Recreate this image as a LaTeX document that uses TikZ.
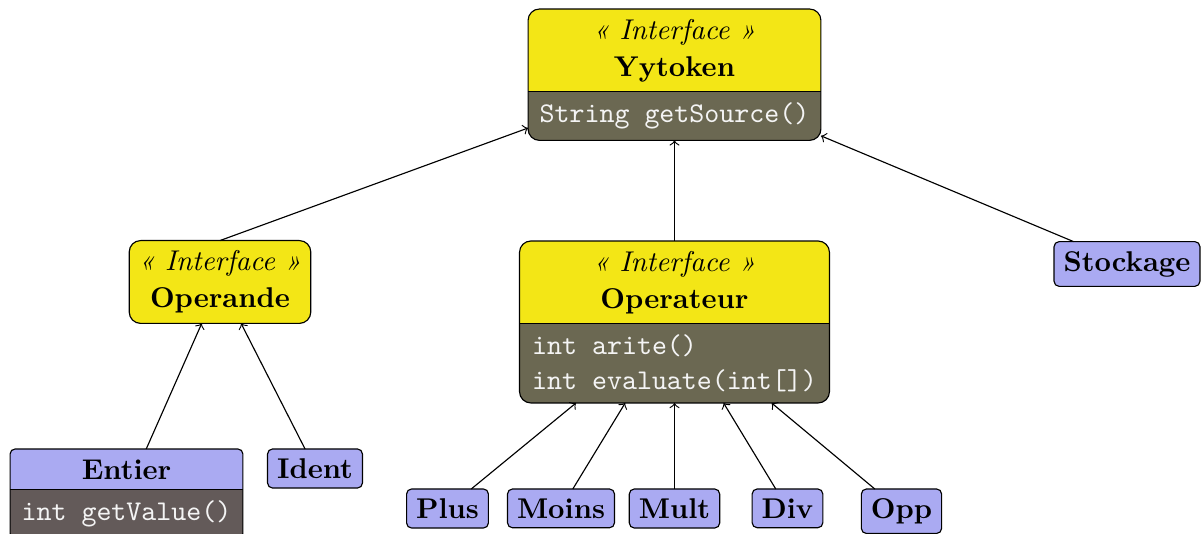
\documentclass[tikz,border=0pt]{standalone}
\usetikzlibrary{fit,backgrounds}

\definecolor{ifacefill}{RGB}{243,230,22}
\definecolor{opsfill}{RGB}{107,104,82}
\definecolor{entfill}{RGB}{99,90,89}
\definecolor{classfill}{RGB}{170,170,242}
\definecolor{methodtext}{RGB}{244,244,244}

\tikzset{
  part/.style={inner sep=3.33pt, outer sep=0pt, align=center},
  header/.style={part, minimum height=29pt},
  methods/.style={part, align=left, text=methodtext, font=\ttfamily},
  frame/.style={draw, inner sep=0pt, outer sep=0pt, rounded corners=#1},
  ifacebox/.style={part, draw, fill=ifacefill, rounded corners=4pt, minimum height=29pt},
  classbox/.style={part, draw, fill=classfill, rounded corners=1.75pt, anchor=north, font=\bfseries},
  inherit/.style={->, thin}
}

\begin{document}
\begin{tikzpicture}[x=0.35pt, y=-0.35pt]
\useasboundingbox (0,0) rectangle (1202,534);

% --- Yytoken interface
\node[header, minimum width=102.5pt, anchor=north] (yyt-h) at (674.5,9)
  {\textit{« Interface »}\\[1pt]\textbf{Yytoken}};
\node[methods, minimum width=102.5pt, minimum height=17pt, anchor=north] (yyt-m) at (yyt-h.south)
  {String getSource()};
\node[frame=4pt, fit=(yyt-h)(yyt-m)] (yyt) {};
\begin{scope}[on background layer]
  \begin{scope}
    \clip[rounded corners=4pt] (yyt.north west) rectangle (yyt.south east);
    \fill[ifacefill] (yyt-h.north west) rectangle (yyt-h.south east);
    \fill[opsfill] (yyt-m.north west) rectangle (yyt-m.south east);
  \end{scope}
\end{scope}
\draw (yyt-h.south west) -- (yyt-h.south east);

% --- Operande interface
\node[ifacebox] (opd) at (220,282)
  {\textit{« Interface »}\\[1pt]\textbf{Operande}};

% --- Operateur interface
\node[header, minimum width=108.5pt, anchor=north] (opr-h) at (674.5,241)
  {\textit{« Interface »}\\[1pt]\textbf{Operateur}};
\node[methods, minimum width=108.5pt, minimum height=27.7pt, anchor=north] (opr-m) at (opr-h.south)
  {int arite()\\int evaluate(int[])};
\node[frame=4pt, fit=(opr-h)(opr-m)] (opr) {};
\begin{scope}[on background layer]
  \begin{scope}
    \clip[rounded corners=4pt] (opr.north west) rectangle (opr.south east);
    \fill[ifacefill] (opr-h.north west) rectangle (opr-h.south east);
    \fill[opsfill] (opr-m.north west) rectangle (opr-m.south east);
  \end{scope}
\end{scope}
\draw (opr-h.south west) -- (opr-h.south east);

% --- Stockage
\node[classbox, anchor=center] (sto) at (1127,264) {Stockage};

% --- Entier class
\node[part, minimum width=81.5pt, minimum height=14.3pt, anchor=north, font=\bfseries] (ent-h) at (126.5,449) {Entier};
\node[methods, minimum width=81.5pt, minimum height=17pt, anchor=north] (ent-m) at (ent-h.south) {int getValue()};
\node[frame=1.75pt, fit=(ent-h)(ent-m)] (ent) {};
\begin{scope}[on background layer]
  \begin{scope}
    \clip[rounded corners=1.75pt] (ent.north west) rectangle (ent.south east);
    \fill[classfill] (ent-h.north west) rectangle (ent-h.south east);
    \fill[entfill] (ent-m.north west) rectangle (ent-m.south east);
  \end{scope}
\end{scope}
\draw (ent-h.south west) -- (ent-h.south east);

% --- simple classes
\node[classbox] (idt) at (315,449) {Ident};
\node[classbox] (pls) at (447.5,489) {Plus};
\node[classbox] (mns) at (561,489) {Moins};
\node[classbox] (mlt) at (674.5,489) {Mult};
\node[classbox] (dvd) at (787.5,489) {Div};
\node[classbox] (opp) at (901.5,489) {Opp};

% --- inheritance arrows
\draw[inherit] (opd.north) -- (yyt);
\draw[inherit] (opr) -- (yyt);
\draw[inherit] (sto) -- (yyt);
\draw[inherit] (ent) -- (opd);
\draw[inherit] (idt) -- (opd);
\foreach \c in {pls,mns,mlt,dvd,opp}
  \draw[inherit] (\c) -- (opr);
\end{tikzpicture}
\end{document}
